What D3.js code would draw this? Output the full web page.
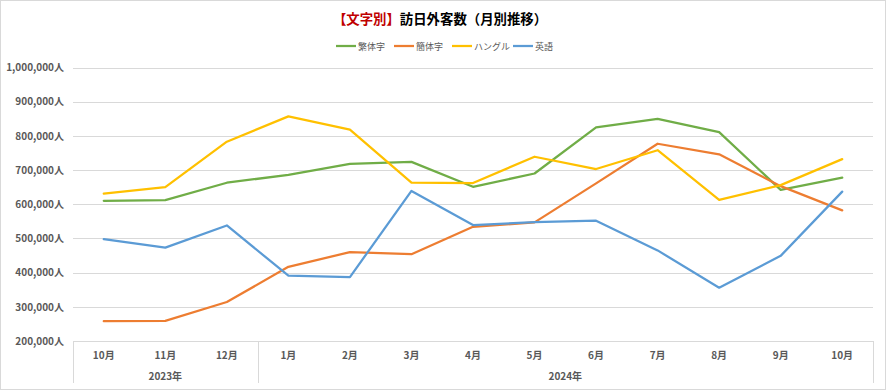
<!DOCTYPE html>
<html>
<head>
<meta charset="utf-8">
<script src="https://cdn.jsdelivr.net/npm/d3@7"></script>
<style>
body { margin: 0; background: #fff; }
svg text { font-family: "Noto Sans CJK JP", "Noto Sans", sans-serif; }
</style>
</head>
<body>
<svg id="chart" width="886" height="390"></svg>
<script>
// data
var months = ["10月", "11月", "12月", "1月", "2月", "3月", "4月", "5月", "6月", "7月", "8月", "9月", "10月"];
var years = ["2023年", "2023年", "2023年", "2024年", "2024年", "2024年", "2024年", "2024年", "2024年", "2024年", "2024年", "2024年", "2024年"];
var seriesNames = ["繁体字", "簡体字", "ハングル", "英語"];
var hantai = [610000, 612000, 663000, 686000, 718000, 724000, 651000, 690000, 825000, 850000, 811000, 642000, 678000];
var kantai = [258000, 259000, 314000, 417000, 460000, 454000, 534000, 547000, 661000, 777000, 746000, 653000, 582000];
var hangul = [631000, 650000, 783000, 857000, 818000, 663000, 662000, 739000, 703000, 758000, 613000, 656000, 732000];
var eigo = [498000, 473000, 538000, 391000, 387000, 639000, 539000, 548000, 552000, 465000, 356000, 449000, 637000];
var yTicks = [200000, 300000, 400000, 500000, 600000, 700000, 800000, 900000, 1000000];

var colors = ["#70ad47", "#ed7d31", "#ffc000", "#5b9bd5"];
var allSeries = [hantai, kantai, hangul, eigo];

var svg = d3.select("#chart");

svg.append("rect")
    .attr("x", 0.5).attr("y", 0.5)
    .attr("width", 885).attr("height", 389)
    .attr("fill", "#fff")
    .attr("stroke", "#d9d9d9");

var margin = { left: 73, right: 13, top: 67.5, bottom: 49 };
var width = 886 - margin.left - margin.right,
    height = 390 - margin.top - margin.bottom;

var x = d3.scaleBand()
    .domain(d3.range(months.length))
    .range([margin.left, margin.left + width])
    .padding(0);

var y = d3.scaleLinear()
    .domain([200000, 1000000])
    .range([margin.top + height, margin.top]);

// title
var title = svg.append("text")
    .attr("x", 440)
    .attr("y", 24)
    .attr("text-anchor", "middle")
    .style("font-size", "13.4px")
    .style("font-weight", "bold");
title.append("tspan").attr("fill", "#c00000").text("【文字別】");
title.append("tspan").attr("fill", "#000").text("訪日外客数（月別推移）");

// gridlines
svg.append("g")
    .selectAll("line")
    .data(yTicks)
    .enter().append("line")
    .attr("x1", margin.left)
    .attr("x2", margin.left + width)
    .attr("y1", function (d) { return Math.round(y(d)) + 0.5; })
    .attr("y2", function (d) { return Math.round(y(d)) + 0.5; })
    .attr("stroke", "#d9d9d9")
    .attr("stroke-width", 1);

// y axis labels
var yAxis = svg.append("g")
    .attr("transform", "translate(" + (margin.left - 9) + ",0)")
    .call(d3.axisLeft(y)
        .tickValues(yTicks)
        .tickSize(0)
        .tickFormat(function (d) { return d3.format(",")(d) + "人"; }));
yAxis.select(".domain").remove();
yAxis.selectAll("text")
    .attr("x", 0)
    .attr("fill", "#595959")
    .style("font-size", "10px")
    .style("font-weight", "bold")
    .style("font-family", "'Noto Sans CJK JP', sans-serif");

// x axis (two levels)
var axisTop = margin.top + height;
var axisBottom = 383;
var xg = svg.append("g");
xg.append("line")
    .attr("x1", margin.left).attr("x2", margin.left + width)
    .attr("y1", Math.round(axisTop) + 0.5).attr("y2", Math.round(axisTop) + 0.5)
    .attr("stroke", "#d9d9d9");

xg.selectAll(".month")
    .data(months)
    .enter().append("text")
    .attr("class", "month")
    .attr("x", function (d, i) { return x(i) + x.bandwidth() / 2; })
    .attr("y", 359)
    .attr("text-anchor", "middle")
    .attr("fill", "#595959")
    .style("font-size", "10px")
    .style("font-weight", "bold")
    .text(function (d) { return d; });

var groups = [];
years.forEach(function (yr, i) {
    if (groups.length === 0 || groups[groups.length - 1].label !== yr) {
        groups.push({ label: yr, start: i, end: i });
    } else {
        groups[groups.length - 1].end = i;
    }
});

var edges = [0].concat(groups.map(function (g) { return g.end + 1; }));
xg.selectAll(".divider")
    .data(edges)
    .enter().append("line")
    .attr("class", "divider")
    .attr("x1", function (d) { return Math.round(d < months.length ? x(d) : x.range()[1]) + 0.5; })
    .attr("x2", function (d) { return Math.round(d < months.length ? x(d) : x.range()[1]) + 0.5; })
    .attr("y1", axisTop)
    .attr("y2", axisBottom)
    .attr("stroke", "#d9d9d9");

xg.selectAll(".year")
    .data(groups)
    .enter().append("text")
    .attr("class", "year")
    .attr("x", function (d) {
        var right = d.end + 1 < months.length ? x(d.end + 1) : x.range()[1];
        return (x(d.start) + right) / 2;
    })
    .attr("y", 380)
    .attr("text-anchor", "middle")
    .attr("fill", "#595959")
    .style("font-size", "10px")
    .style("font-weight", "bold")
    .text(function (d) { return d.label; });

// lines
var line = d3.line()
    .x(function (d, i) { return x(i) + x.bandwidth() / 2; })
    .y(function (d) { return y(d); });

svg.append("g")
    .selectAll("path")
    .data(allSeries)
    .enter().append("path")
    .attr("d", line)
    .attr("fill", "none")
    .attr("stroke", function (d, i) { return colors[i]; })
    .attr("stroke-width", 2.25)
    .attr("stroke-linejoin", "round")
    .attr("stroke-linecap", "round");

// legend
var legendX = [336, 394, 452, 513];
var legend = svg.append("g")
    .selectAll("g")
    .data(seriesNames)
    .enter().append("g")
    .attr("transform", function (d, i) { return "translate(" + legendX[i] + ",46)"; });

legend.append("line")
    .attr("x1", 0).attr("x2", 20)
    .attr("y1", 0).attr("y2", 0)
    .attr("stroke", function (d, i) { return colors[i]; })
    .attr("stroke-width", 2.25);

legend.append("text")
    .attr("x", 22)
    .attr("y", 3.5)
    .attr("fill", "#595959")
    .style("font-size", "9px")
    .text(function (d) { return d; });
</script>
</body>
</html>
